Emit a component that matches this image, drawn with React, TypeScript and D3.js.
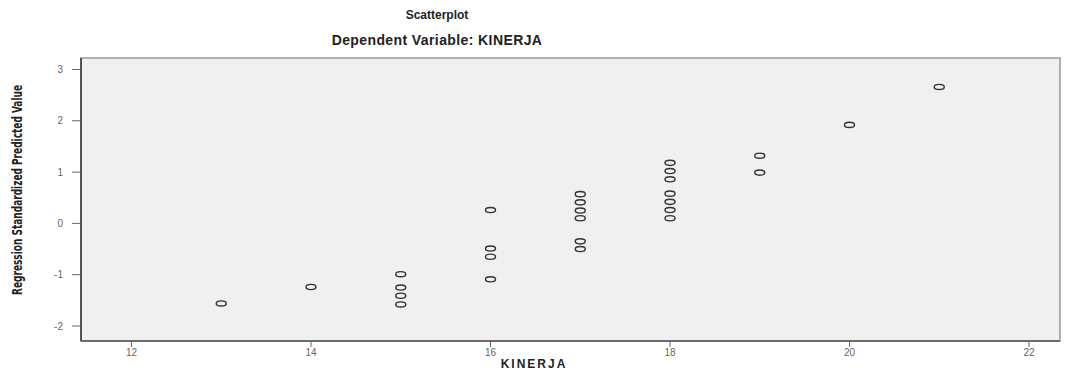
import React from "react";
import * as d3 from "d3";

const xTicks = [12, 14, 16, 18, 20, 22];
const yTicks = [-2, -1, 0, 1, 2, 3];

const kinerja = [
  13, 14,
  15, 15, 15, 15,
  16, 16, 16, 16,
  17, 17, 17, 17, 17, 17,
  18, 18, 18, 18, 18, 18, 18,
  19, 19,
  20, 21,
];
const predicted = [
  -1.56, -1.24,
  -0.99, -1.25, -1.41, -1.58,
  0.26, -0.49, -0.65, -1.09,
  0.57, 0.41, 0.25, 0.1, -0.35, -0.5,
  1.18, 1.02, 0.86, 0.58, 0.42, 0.26, 0.1,
  1.32, 0.99,
  1.92, 2.66,
];

const W = 1067;
const H = 374;
const plot = { left: 81, right: 1060, top: 58, bottom: 341 };

export default function App() {
  const x = d3.scaleLinear().domain([12, 22]).range([131.5, 1029]);
  const y = d3.scaleLinear().domain([-2, 3]).range([326, 69.5]);
  const font = "'Liberation Sans', Arial, Helvetica, sans-serif";
  return (
    <svg
      width={W}
      height={H}
      style={{ position: "absolute", left: 0, top: 0, background: "#fff" }}
    >
      <text x={437} y={19} textAnchor="middle" fontFamily={font} fontWeight="bold" fontSize={12} fill="#222">
        Scatterplot
      </text>
      <text x={437} y={45} textAnchor="middle" fontFamily={font} fontWeight="bold" fontSize={14} fill="#222" letterSpacing={0.4}>
        Dependent Variable: KINERJA
      </text>
      <rect
        x={plot.left}
        y={plot.top}
        width={plot.right - plot.left}
        height={plot.bottom - plot.top}
        fill="#f0f0f0"
        stroke="#999"
        strokeWidth={1.5}
      />
      <line x1={plot.left} x2={plot.left} y1={plot.top} y2={plot.bottom} stroke="#333" strokeWidth={1.5} />
      <line x1={plot.left} x2={plot.right} y1={plot.bottom} y2={plot.bottom} stroke="#555" strokeWidth={1.5} />
      {yTicks.map((t) => (
        <g key={"y" + t}>
          <line x1={72} x2={plot.left} y1={y(t)} y2={y(t)} stroke="#666" strokeWidth={1} />
          <text x={63} y={y(t) + 3.5} textAnchor="end" fontFamily={font} fontSize={10} fill="#666">
            {t < 0 ? "-" + Math.abs(t) : t}
          </text>
        </g>
      ))}
      {xTicks.map((t) => (
        <g key={"x" + t}>
          <line x1={x(t)} x2={x(t)} y1={plot.bottom} y2={plot.bottom + 6} stroke="#666" strokeWidth={1} />
          <text x={x(t)} y={plot.bottom + 15} textAnchor="middle" fontFamily={font} fontSize={10} fill="#666">
            {t}
          </text>
        </g>
      ))}
      <text x={534} y={368} textAnchor="middle" fontFamily={font} fontWeight="bold" fontSize={12} fill="#222" letterSpacing={2}>
        KINERJA
      </text>
      <text
        transform={`translate(22,190) rotate(-90)`}
        textAnchor="middle"
        fontFamily="'Liberation Sans Narrow', 'DejaVu Sans Condensed', Arial, sans-serif"
        fontWeight="bold"
        fontSize={14}
        fill="#222"
        textLength={210}
        lengthAdjust="spacingAndGlyphs"
      >
        Regression Standardized Predicted Value
      </text>
      {kinerja.map((k, i) => (
        <ellipse
          key={i}
          cx={x(k)}
          cy={y(predicted[i])}
          rx={5}
          ry={2.6}
          fill="none"
          stroke="#333"
          strokeWidth={1.4}
        />
      ))}
    </svg>
  );
}
